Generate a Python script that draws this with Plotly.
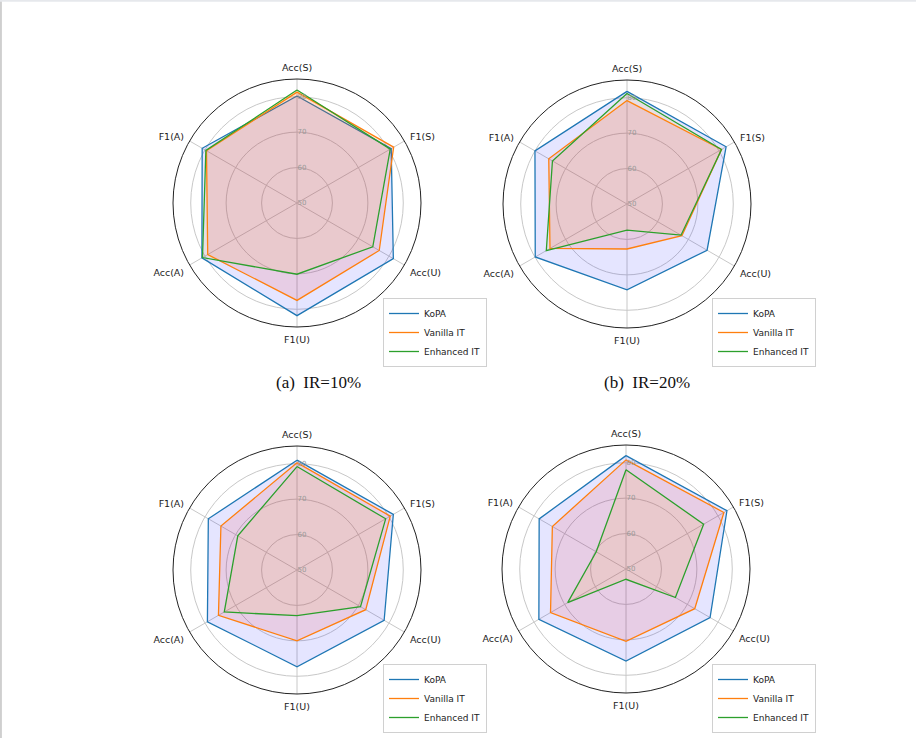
import plotly.graph_objects as go

categories = ["Acc(S)", "F1(S)", "Acc(U)", "F1(U)", "Acc(A)", "F1(A)"]
series_names = ["KoPA", "Vanilla IT", "Enhanced IT"]

# IR=10%
kopa_10 = [80.2, 80.7, 81.4, 81.8, 81.0, 80.9]
vanilla_10 = [81.3, 81.5, 76.8, 77.5, 79.1, 79.5]
enhanced_10 = [81.9, 80.4, 74.7, 70.1, 80.8, 79.7]
# IR=20%
kopa_20 = [81.8, 82.3, 76.1, 74.2, 79.9, 80.0]
vanilla_20 = [79.2, 80.8, 67.9, 62.7, 75.1, 75.5]
enhanced_20 = [81.2, 80.8, 67.6, 57.4, 76.3, 74.3]
# third panel
kopa_c = [81.0, 81.4, 78.4, 77.3, 79.2, 78.9]
vanilla_c = [80.3, 80.4, 72.4, 70.0, 75.6, 74.8]
enhanced_c = [79.2, 78.9, 70.7, 62.9, 73.7, 69.3]
# fourth panel
kopa_d = [82.0, 82.9, 77.4, 76.0, 78.4, 78.3]
vanilla_d = [80.8, 81.9, 72.4, 70.4, 74.6, 74.0]
enhanced_d = [78.0, 75.3, 66.1, 52.9, 69.0, 59.7]

radial_ticks = [50, 60, 70, 80]
captions = ["(a)  IR=10%", "(b)  IR=20%"]

panels = [
    [kopa_10, vanilla_10, enhanced_10],
    [kopa_20, vanilla_20, enhanced_20],
    [kopa_c, vanilla_c, enhanced_c],
    [kopa_d, vanilla_d, enhanced_d],
]

W, H = 916, 738
line_colors = ["#1f77b4", "#ff7f0e", "#2ca02c"]
fill_colors = ["rgba(0,0,255,0.1)", "rgba(255,0,0,0.1)", "rgba(255,165,0,0.1)"]

# panel centers (px) and outer radius
centers = [(297, 203), (627, 204), (297, 570), (626, 569)]
R = 124
legend_pos = [(383, 298), (712, 298), (383, 664), (712, 664)]

fig = go.Figure()
theta = categories + [categories[0]]
for p, data in enumerate(panels):
    pid = "polar" if p == 0 else f"polar{p+1}"
    lid = "legend" if p == 0 else f"legend{p+1}"
    for s, vals in enumerate(data):
        r = list(vals) + [vals[0]]
        fig.add_trace(go.Scatterpolar(
            r=r, theta=theta, subplot=pid, mode="lines",
            fill="toself", fillcolor=fill_colors[s],
            line=dict(width=0, color=line_colors[s]),
            showlegend=False, hoverinfo="skip"))
        fig.add_trace(go.Scatterpolar(
            r=r, theta=theta, subplot=pid, mode="lines",
            line=dict(width=1.3, color=line_colors[s]),
            name=series_names[s], legend=lid, showlegend=True))

layout = dict(
    width=W, height=H, margin=dict(l=0, r=0, t=0, b=0),
    paper_bgcolor="white", plot_bgcolor="white",
    font=dict(family="DejaVu Sans", size=9, color="#222"),
)
for p, (cx, cy) in enumerate(centers):
    pid = "polar" if p == 0 else f"polar{p+1}"
    layout[pid] = dict(
        domain=dict(x=[(cx - R) / W, (cx + R) / W],
                    y=[1 - (cy + R) / H, 1 - (cy - R) / H]),
        bgcolor="rgba(0,0,0,0)",
        radialaxis=dict(range=[50, 85], tickvals=radial_ticks,
                        ticktext=[str(t) for t in radial_ticks],
                        angle=90, tickangle=90, showline=False, ticks="",
                        gridcolor="#c8c8c8", gridwidth=1,
                        tickfont=dict(size=7, color="#999")),
        angularaxis=dict(rotation=90, direction="clockwise",
                         categoryarray=categories, categoryorder="array",
                         showline=True, linecolor="#222", linewidth=1,
                         gridcolor="#c8c8c8", gridwidth=1,
                         ticks="outside", ticklen=4, tickcolor="rgba(0,0,0,0)",
                         tickfont=dict(size=9.5, color="#222")),
    )
    lid = "legend" if p == 0 else f"legend{p+1}"
    lx, ly = legend_pos[p]
    layout[lid] = dict(x=lx / W, y=1 - ly / H, xanchor="left", yanchor="top",
                       bgcolor="white", bordercolor="#d0d0d0", borderwidth=1,
                       font=dict(size=9, family="DejaVu Sans", color="#222"),
                       itemwidth=30, tracegroupgap=0)
fig.update_layout(**layout)

cap_x = [318, 647]
for i, c in enumerate(captions):
    fig.add_annotation(x=cap_x[i] / W, y=1 - 382 / H, xref="paper", yref="paper",
                       text=c, showarrow=False, xanchor="center", yanchor="middle",
                       font=dict(family="Liberation Serif", size=17, color="#111"))

fig.add_shape(type="line", xref="paper", yref="paper", x0=0.001, x1=0.001, y0=0, y1=1,
              line=dict(color="#cfcfcf", width=2))
fig.add_shape(type="line", xref="paper", yref="paper", x0=0, x1=1, y0=0.999, y1=0.999,
              line=dict(color="#e6e8ec", width=2))

fig.write_html("out.html", config={"displayModeBar": False},
               post_script="document.body.style.margin='0';document.body.style.overflow='hidden';")
